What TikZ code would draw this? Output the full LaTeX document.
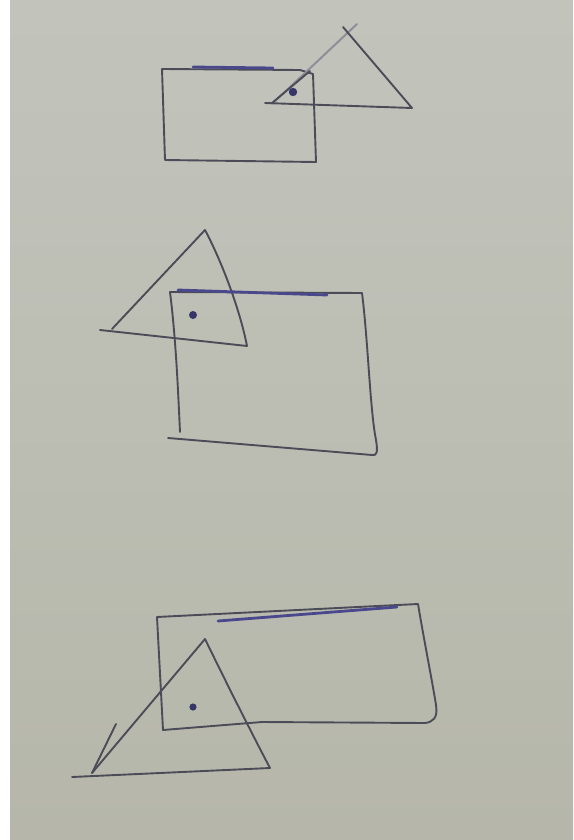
\documentclass[tikz,border=0pt]{standalone}
\begin{document}
\begin{tikzpicture}[x=1pt,y=-1pt,
  pen/.style={draw=penc,line width=1.9pt,line cap=round,line join=round},
  faint/.style={draw=penl,line width=2pt,line cap=round},
  blue/.style={draw=penb,line width=2.8pt,line cap=round},
  dotm/.style={fill=penb!75!black}]
\definecolor{penc}{RGB}{76,76,88}
\definecolor{penl}{RGB}{142,142,152}
\definecolor{penb}{RGB}{74,72,140}
\definecolor{papt}{RGB}{194,196,188}
\definecolor{papb}{RGB}{182,183,170}
\useasboundingbox (0,0) rectangle (573,840);
\shade[top color=papt,bottom color=papb] (10,0) rectangle (573,840);
\fill[white] (0,0) rectangle (10,840);
% ---- shape 1
\draw[pen] (162,69) -- (300,70) -- (313,74) -- (316,162) -- (165,160) -- cycle;
\draw[blue] (193,67) -- (273,68);
\draw[faint] (272,104) -- (357,24);
\draw[pen] (272,103) -- (310,71);
\draw[pen] (343,27) -- (412,108) -- (265,103);
\fill[dotm] (293,92) circle (4.2);
% ---- shape 2
\draw[pen] (112,329) -- (205,230) .. controls (222,262) and (240,310) .. (247,346) -- (100,330);
\draw[pen] (170,292) .. controls (176,340) and (178,390) .. (180,432);
\draw[pen] (170,292) -- (362,293) .. controls (368,340) and (370,410) .. (376,440) .. controls (378,452) and (377,456) .. (372,455) -- (168,438);
\draw[blue] (178,290) -- (327,295);
\fill[dotm] (193,315) circle (4);
% ---- shape 3
\draw[pen] (157,617) -- (418,604) .. controls (424,640) and (432,680) .. (436,705) .. controls (438,718) and (433,722) .. (425,723) -- (262,722) -- (163,730) -- cycle;
\draw[blue] (218,621) -- (397,607);
\draw[pen] (92,773) -- (205,639) .. controls (225,680) and (250,730) .. (270,768) -- (72,777);
\draw[pen] (92,773) -- (116,724);
\fill[dotm] (193,707) circle (3.6);
\end{tikzpicture}
\end{document}
